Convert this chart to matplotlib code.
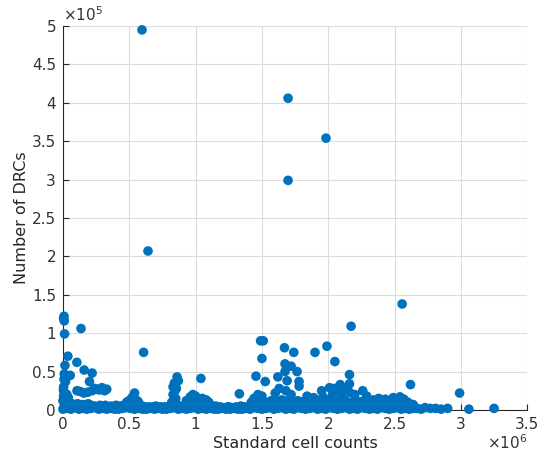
import matplotlib
matplotlib.use("Agg")
import matplotlib.pyplot as plt
import numpy as np
from matplotlib.ticker import FuncFormatter

# values: x in units of 1e6 cells, y in units of 1e5 DRCs
outliers = [(0.596, 4.95), (1.697, 4.06), (1.983, 3.54), (1.697, 2.99), (0.641, 2.07),
            (2.557, 1.38), (2.172, 1.09), (0.136, 1.06), (0.008, 1.22), (0.010, 1.16),
            (0.012, 0.99), (0.005, 1.19), (1.490, 0.90), (1.510, 0.90), (0.608, 0.75),
            (1.500, 0.67), (1.670, 0.81), (1.740, 0.75), (1.900, 0.75), (1.990, 0.83),
            (2.050, 0.63), (1.455, 0.44), (1.525, 0.37), (1.040, 0.41), (1.330, 0.21)]

near_zero = [(0.037, 0.70), (0.105, 0.62), (0.160, 0.52), (0.220, 0.48), (0.200, 0.37),
             (0.055, 0.45), (0.015, 0.58), (0.010, 0.47), (0.020, 0.37), (0.005, 0.30),
             (0.005, 0.18), (0.010, 0.22), (0.004, 0.26), (0.008, 0.40), (0.030, 0.20),
             (0.040, 0.16), (0.106, 0.25), (0.158, 0.22), (0.219, 0.25), (0.256, 0.27),
             (0.294, 0.29), (0.330, 0.27), (0.240, 0.28), (0.275, 0.26), (0.130, 0.24),
             (0.185, 0.23), (0.315, 0.25), (0.020, 0.12), (0.045, 0.10)]

humps = [(0.860, 0.43), (0.840, 0.35), (0.830, 0.30), (0.845, 0.25), (0.830, 0.20),
         (0.850, 0.15), (0.820, 0.10), (0.870, 0.38), (0.855, 0.28),
         (0.540, 0.22), (0.520, 0.16), (0.500, 0.12), (0.480, 0.10), (0.560, 0.12),
         (0.960, 0.17), (0.980, 0.20), (1.000, 0.18), (1.020, 0.14), (1.050, 0.15),
         (1.080, 0.13), (0.930, 0.12), (1.100, 0.10),
         (1.440, 0.15), (1.470, 0.20), (1.500, 0.18), (1.420, 0.10)]

cluster_mid = [(1.674, 0.60), (1.720, 0.57), (1.765, 0.50), (1.674, 0.50), (1.620, 0.43),
               (1.690, 0.38), (1.780, 0.37), (1.780, 0.31), (1.680, 0.25), (2.010, 0.29),
               (2.090, 0.33), (2.160, 0.46), (2.160, 0.34), (2.260, 0.25), (1.950, 0.25),
               (2.050, 0.28), (2.120, 0.27), (1.600, 0.22), (1.630, 0.28), (2.070, 0.26),
               (2.160, 0.23), (2.200, 0.20), (2.290, 0.18), (2.490, 0.16), (2.540, 0.17),
               (2.340, 0.13), (2.430, 0.14), (1.960, 0.17), (1.890, 0.16), (1.720, 0.20),
               (1.840, 0.18), (2.030, 0.19), (2.100, 0.21), (2.380, 0.15), (2.570, 0.14)]

band_low = [(0.00, .01), (0.03, .02), (0.06, .01), (0.09, .03), (0.12, .01), (0.15, .02),
            (0.18, .01), (0.21, .02), (0.24, .03), (0.27, .01), (0.30, .02), (0.33, .01),
            (0.36, .02), (0.39, .01), (0.42, .01), (0.45, .02), (0.48, .03), (0.51, .02),
            (0.54, .01), (0.57, .02), (0.60, .01), (0.63, .01), (0.66, .02), (0.69, .01),
            (0.72, .02), (0.75, .01), (0.78, .01), (0.81, .02), (0.84, .03), (0.87, .01),
            (0.90, .02), (0.93, .01), (0.96, .02), (0.99, .03), (1.02, .01), (1.05, .02),
            (1.08, .01), (1.11, .02), (1.14, .01), (1.17, .01), (1.20, .02), (1.23, .01),
            (1.26, .01), (1.29, .02), (1.32, .01), (1.35, .01), (1.38, .02), (1.41, .01),
            (1.44, .03), (1.47, .02), (1.50, .01), (1.53, .02), (1.56, .03), (1.59, .01),
            (1.62, .02), (1.65, .03), (1.68, .01), (1.71, .02), (1.74, .01), (1.77, .03),
            (1.80, .02), (1.83, .01), (1.86, .02), (1.89, .03), (1.92, .01), (1.95, .02),
            (1.98, .01), (2.01, .03), (2.04, .02), (2.07, .01), (2.10, .02), (2.13, .03),
            (2.16, .01), (2.19, .02), (2.22, .01), (2.25, .03), (2.28, .02), (2.31, .01),
            (2.34, .02), (2.37, .01), (2.40, .03), (2.43, .02), (2.46, .01), (2.49, .02),
            (2.52, .03), (2.55, .01), (2.58, .02), (2.61, .01), (2.64, .02)]

band_fill = [(0.015, .04), (0.045, .04), (0.075, .05), (0.105, .04), (0.135, .05),
             (0.165, .04), (0.195, .04), (0.225, .05), (0.255, .04), (0.285, .04),
             (0.315, .05), (0.345, .04), (0.375, .04), (0.405, .04), (0.435, .05),
             (0.465, .04), (0.495, .05), (0.525, .04), (0.555, .05), (0.585, .04),
             (0.615, .04), (0.645, .04), (0.675, .04), (0.705, .03), (0.735, .04),
             (0.765, .04), (0.795, .04), (0.825, .05), (0.855, .04), (0.885, .04),
             (0.915, .04), (0.945, .05), (0.975, .04), (1.005, .05), (1.035, .04),
             (1.065, .04), (1.095, .04), (1.125, .03), (1.155, .04), (1.185, .04),
             (1.215, .03), (1.245, .04), (1.275, .03), (1.305, .04), (1.335, .03),
             (1.365, .04), (1.395, .04), (1.425, .04), (1.455, .05), (1.485, .04),
             (1.515, .04), (1.545, .05), (1.575, .04), (1.605, .04), (1.635, .05),
             (1.665, .04), (1.695, .04), (1.725, .05), (1.755, .04), (1.785, .04),
             (1.815, .05), (1.845, .04), (1.875, .04), (1.905, .05), (1.935, .04),
             (1.965, .04), (1.995, .05), (2.025, .04), (2.055, .04), (2.085, .05),
             (2.115, .04), (2.145, .04), (2.175, .05), (2.205, .04), (2.235, .04),
             (2.265, .05), (2.295, .04), (2.325, .04), (2.355, .05), (2.385, .04),
             (2.415, .04), (2.445, .05), (2.475, .04), (2.505, .04), (2.535, .05),
             (2.565, .04), (2.595, .04), (2.625, .04)]

band_mid = [(0.01, .06), (0.04, .08), (0.08, .05), (0.12, .07), (0.16, .06), (0.20, .07),
            (0.24, .05), (0.28, .06), (0.32, .06), (0.36, .05), (0.40, .06), (0.44, .05),
            (0.48, .07), (0.52, .08), (0.56, .06), (0.60, .05), (0.70, .05), (0.80, .05),
            (0.83, .07), (0.87, .06), (0.91, .05), (0.95, .07), (0.99, .08), (1.03, .06),
            (1.07, .07), (1.11, .05), (1.15, .05), (1.25, .04), (1.34, .05), (1.42, .06),
            (1.46, .08), (1.50, .07), (1.54, .06), (1.58, .08), (1.62, .07), (1.66, .06),
            (1.70, .08), (1.74, .07), (1.78, .06), (1.82, .08), (1.86, .07), (1.90, .06),
            (1.94, .08), (1.98, .07), (2.02, .06), (2.06, .08), (2.10, .07), (2.14, .06),
            (2.18, .08), (2.22, .07), (2.26, .06), (2.30, .07), (2.34, .06), (2.38, .08),
            (2.42, .07), (2.46, .06), (2.50, .08), (2.54, .07), (2.58, .06), (2.62, .05)]

band_high = [(0.00, .12), (0.03, .10), (0.07, .08), (0.11, .08), (0.15, .07), (0.19, .08),
             (0.49, .11), (0.53, .13), (0.57, .10), (0.96, .12), (1.00, .11), (1.05, .10),
             (1.09, .09), (1.45, .12), (1.49, .11), (1.53, .10), (1.57, .12), (1.61, .11),
             (1.65, .13), (1.69, .12), (1.73, .10), (1.77, .12), (1.81, .11), (1.85, .10),
             (1.89, .12), (1.93, .11), (1.97, .13), (2.01, .12), (2.05, .11), (2.09, .13),
             (2.13, .12), (2.17, .10), (2.21, .12), (2.25, .11), (2.29, .10), (2.35, .10),
             (2.41, .11), (2.47, .10), (2.53, .11), (2.59, .09)]

right_tail = [(2.67, .02), (2.70, .01), (2.73, .03), (2.77, .02), (2.81, .02), (2.85, .01),
              (2.90, .02), (3.06, .01), (3.25, .02), (2.60, .10), (2.64, .07), (2.99, .22),
              (2.62, .33)]

x_ticks = [0, 0.5, 1, 1.5, 2, 2.5, 3, 3.5]
y_ticks = [0, 0.5, 1, 1.5, 2, 2.5, 3, 3.5, 4, 4.5, 5]

all_pts = (outliers + near_zero + humps + cluster_mid + band_low + band_fill
           + band_mid + band_high + right_tail)
xs = np.array([p[0] for p in all_pts]) * 1e6
ys = np.array([p[1] for p in all_pts]) * 1e5

plt.rcParams['font.family'] = ['DejaVu Sans']
fig = plt.figure(figsize=(5.38, 4.57), dpi=100)
ax = fig.add_axes([0.117, 0.103, 0.863, 0.840])

ax.scatter(xs, ys, s=48, color='#0072BD', edgecolors='none', zorder=3, clip_on=False)

ax.set_xlim(0, 3.5e6)
ax.set_ylim(0, 5e5)
ax.set_xticks([t * 1e6 for t in x_ticks])
ax.set_yticks([t * 1e5 for t in y_ticks])
ax.xaxis.set_major_formatter(FuncFormatter(lambda v, p: f"{v/1e6:g}"))
ax.yaxis.set_major_formatter(FuncFormatter(lambda v, p: f"{v/1e5:g}"))

ax.grid(True, color='#dcdcdc', linewidth=0.8, zorder=0)
ax.set_axisbelow(True)
for side in ['top', 'right']:
    ax.spines[side].set_visible(False)
for side in ['left', 'bottom']:
    ax.spines[side].set_color('#262626')
    ax.spines[side].set_linewidth(0.8)
ax.tick_params(direction='in', length=4, width=0.8, colors='#262626',
               labelsize=11, labelcolor='#333333', pad=5)

ax.set_xlabel('Standard cell counts', fontsize=11.5, color='#262626', labelpad=3)
ax.set_ylabel('Number of DRCs', fontsize=11.5, color='#262626', labelpad=2)

ax.text(0.0, 1.005, r'$\times10^{5}$', transform=ax.transAxes, fontsize=11,
        color='#333333', ha='left', va='bottom')
ax.text(1.0, -0.062, r'$\times10^{6}$', transform=ax.transAxes, fontsize=11,
        color='#333333', ha='right', va='top')

fig.savefig('out.png', dpi=100)
